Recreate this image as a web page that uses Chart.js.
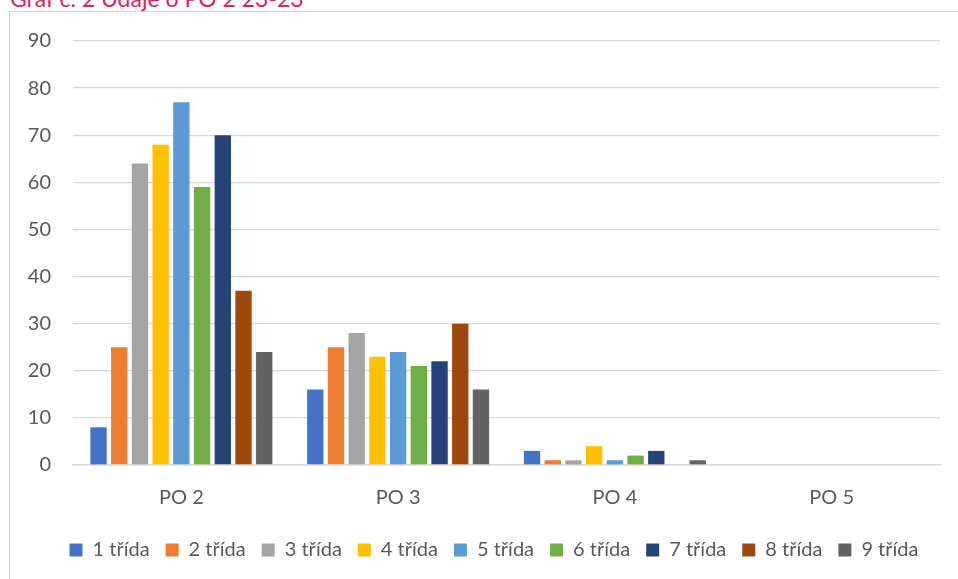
<!DOCTYPE html>
<html>
<head>
<meta charset="utf-8">
<script src="https://cdn.jsdelivr.net/npm/chart.js@4.4.1/dist/chart.umd.min.js"></script>
<style>
  html, body { margin: 0; padding: 0; background: #fff; overflow: hidden; }
  #wrap { position: relative; width: 958px; height: 579px; overflow: hidden; }
  #box { position: absolute; left: 9px; top: 11px; width: 1200px; height: 1200px; border-left: 1px solid #D4D4D4; border-top: 1px solid #D4D4D4; }
  #title { position: absolute; left: 10px; top: -13px; font-family: Lato, sans-serif; font-size: 23px; line-height: 23px; color: #E2215B; white-space: nowrap; }
  #c { position: absolute; left: 0; top: 0; }
</style>
</head>
<body>
<div id="wrap">
  <div id="box"></div>
  <div id="title">Graf č. 2 Údaje o PO 2 23-23</div>
  <canvas id="c" width="958" height="579"></canvas>
</div>
<script>
const categories = ["PO 2", "PO 3", "PO 4", "PO 5"];
const seriesNames = ["1 třída", "2 třída", "3 třída", "4 třída", "5 třída", "6 třída", "7 třída", "8 třída", "9 třída"];
const trida1 = [8, 16, 3, 0];
const trida2 = [25, 25, 1, 0];
const trida3 = [64, 28, 1, 0];
const trida4 = [68, 23, 4, 0];
const trida5 = [77, 24, 1, 0];
const trida6 = [59, 21, 2, 0];
const trida7 = [70, 22, 3, 0];
const trida8 = [37, 30, 0, 0];
const trida9 = [24, 16, 1, 0];
const yTicks = [0, 10, 20, 30, 40, 50, 60, 70, 80, 90];
const seriesColors = ["#4472C4", "#ED7D31", "#A5A5A5", "#FFC000", "#5B9BD5", "#70AD47", "#264478", "#9E480E", "#636363"];

const allSeries = [trida1, trida2, trida3, trida4, trida5, trida6, trida7, trida8, trida9];
const datasets = allSeries.map((vals, i) => ({
  label: seriesNames[i],
  data: vals,
  backgroundColor: seriesColors[i],
  borderWidth: 0,
  barPercentage: 0.79,
  categoryPercentage: 0.86
}));

const noLabelClip = {
  id: 'noLabelClip',
  beforeDraw(chart) {
    chart.scales.y._computeLabelArea = () => undefined;
  }
};

new Chart(document.getElementById('c'), {
  type: 'bar',
  data: { labels: categories, datasets: datasets },
  plugins: [noLabelClip],
  options: {
    responsive: false,
    animation: false,
    devicePixelRatio: 1,
    layout: { padding: { left: 48, right: 18, top: 41, bottom: 9 } },
    plugins: {
      title: { display: false },
      tooltip: { enabled: false },
      legend: {
        position: 'bottom',
        labels: {
          boxWidth: 13,
          boxHeight: 13,
          padding: 16,
          color: '#595959',
          font: { family: 'Lato', size: 20 }
        }
      }
    },
    scales: {
      x: {
        grid: { display: false, drawTicks: false },
        border: { display: true, color: '#D9D9D9', width: 1.5 },
        ticks: { color: '#595959', font: { family: 'Lato', size: 20 }, padding: 21 },
        afterFit: (s) => { s.height = 59; }
      },
      y: {
        min: 0,
        max: 90,
        afterBuildTicks: (s) => { s.ticks = yTicks.map(v => ({ value: v })); },
        grid: { color: '#D9D9D9', lineWidth: 1.3, drawTicks: false },
        border: { display: false },
        ticks: { color: '#595959', font: { family: 'Lato', size: 20 }, padding: 22 },
        afterFit: (s) => { s.width = 25; }
      }
    }
  }
});
</script>
</body>
</html>
